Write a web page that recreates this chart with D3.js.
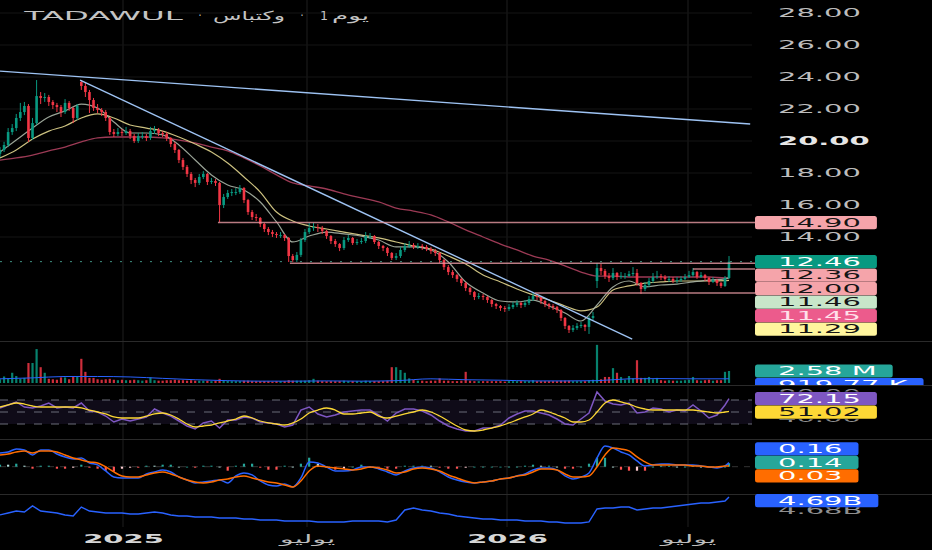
<!DOCTYPE html>
<html><head><meta charset="utf-8">
<script src="https://cdn.jsdelivr.net/npm/d3@7"></script>
<style>html,body{margin:0;background:#000;overflow:hidden}svg{display:block}</style>
</head><body><svg id="c" width="932" height="550"></svg>
<script>
// ---------------- DATA ----------------
const titleParts = ["TADAWUL", "·", "وكتباس", "·", "1", "يوم"];
const timeTickDates = ["2025-01-01", "2025-07-01", "2026-01-01", "2026-07-01"];
const timeTickLabels = ["2025", "يوليو", "2026", "يوليو"];
const priceTicks = [28, 26, 24, 22, 20, 18, 16, 14];
const rsiTicks = [80, 40];
const obvTicks = [4680];
const rsiLevels = [70, 50, 30];

const opens = [19.20,19.44,19.75,20.56,20.81,21.44,21.81,22.19,20.19,21.12,
22.81,22.69,22.75,22.44,22.25,22.12,21.81,22.38,22.06,21.44,
23.69,23.44,23.06,22.56,22.06,21.94,21.81,21.44,20.56,20.44,
20.56,20.50,20.62,20.31,20.00,20.31,20.31,20.19,20.62,20.69,
20.50,20.44,20.19,19.81,19.44,18.81,18.38,17.94,17.56,17.38,
17.75,17.94,17.44,17.50,17.38,16.00,16.50,16.75,16.81,16.81,
17.06,16.31,15.56,15.25,15.19,14.81,14.50,14.31,14.19,14.12,
14.12,13.94,12.81,12.56,12.88,13.81,14.31,14.56,14.62,14.56,
14.38,14.06,13.75,13.56,13.31,13.81,13.94,13.62,13.69,13.75,
14.06,14.06,13.69,13.44,13.31,13.00,12.69,12.81,13.19,13.44,
13.50,13.38,13.44,13.38,13.25,13.12,13.00,12.56,12.12,11.81,
11.62,11.38,11.12,10.81,10.56,10.25,10.31,10.25,10.06,9.81,
9.69,9.56,9.50,9.62,9.75,9.88,9.75,9.88,10.12,10.31,
10.25,10.00,9.81,9.69,9.62,9.44,8.94,8.44,8.19,8.31,
8.44,8.50,8.38,8.94,11.25,12.06,11.88,11.56,11.44,11.75,
11.50,11.56,11.56,11.69,11.75,11.12,10.75,11.00,11.25,11.50,
11.56,11.50,11.38,11.38,11.25,11.31,11.38,11.50,11.62,11.81,
11.50,11.62,11.44,11.19,11.31,11.12,10.94,11.44];
const highs = [19.62,19.95,20.81,21.06,21.69,22.38,22.44,22.31,21.44,23.81,
23.06,23.00,22.88,22.56,22.38,22.25,22.62,22.50,22.12,22.31,
23.81,23.62,23.19,22.69,22.31,22.06,21.94,21.50,20.75,20.81,
20.75,20.88,20.75,20.44,20.50,20.56,20.44,20.88,20.94,20.81,
20.62,20.56,20.25,19.94,19.50,18.94,18.50,18.06,17.69,17.94,
18.12,18.00,17.69,17.62,17.44,16.69,16.94,17.00,17.06,17.25,
17.12,16.38,15.69,15.44,15.25,14.88,14.62,14.44,14.31,14.31,
14.19,14.00,12.94,13.06,13.94,14.50,14.88,14.88,14.81,14.69,
14.44,14.12,13.88,13.62,14.00,14.12,14.00,13.88,13.94,14.31,
14.25,14.12,13.75,13.50,13.38,13.06,13.00,13.38,13.62,13.75,
13.62,13.62,13.56,13.50,13.38,13.25,13.06,12.62,12.25,11.94,
11.69,11.44,11.19,10.88,10.62,10.50,10.44,10.31,10.12,9.88,
9.75,9.69,9.81,9.94,10.06,9.94,10.06,10.31,10.50,10.44,
10.31,10.06,9.88,9.81,9.69,9.50,9.00,8.50,8.50,8.62,
8.69,8.56,9.06,9.31,12.38,12.31,12.00,11.75,12.06,11.81,
11.81,11.75,11.88,12.12,12.00,11.19,11.19,11.44,11.75,11.88,
11.69,11.62,11.56,11.50,11.50,11.56,11.69,11.88,12.06,11.88,
11.81,11.69,11.50,11.50,11.38,11.19,11.56,12.81];
const lows = [19.00,19.31,19.62,20.38,20.62,21.25,21.62,19.94,20.06,21.00,
22.31,22.44,22.19,22.00,21.81,21.50,21.69,21.88,21.12,21.31,
23.19,22.75,21.75,21.88,21.75,21.56,21.25,20.38,20.25,20.31,
20.31,20.38,20.12,19.88,19.88,20.12,20.00,20.06,20.44,20.31,
20.25,20.00,19.62,19.25,18.62,18.19,17.75,17.31,17.12,17.25,
17.62,17.25,17.31,17.19,14.94,15.81,16.38,16.56,16.62,16.69,
16.12,15.38,15.06,15.00,14.62,14.31,14.12,14.00,13.94,13.94,
13.75,12.44,12.44,12.44,12.75,13.69,14.19,14.38,14.31,14.19,
13.88,13.56,13.38,13.12,13.19,13.69,13.50,13.50,13.56,13.62,
13.88,13.56,13.25,13.12,12.81,12.56,12.56,12.69,13.06,13.31,
13.25,13.25,13.19,13.12,12.94,12.81,12.38,11.94,11.62,11.44,
11.19,10.94,10.62,10.38,10.06,10.12,10.06,9.88,9.62,9.50,
9.38,9.31,9.38,9.50,9.62,9.56,9.62,9.75,10.00,10.06,
9.81,9.62,9.50,9.44,9.25,8.75,8.25,8.00,8.06,8.19,
8.31,8.12,7.94,8.81,10.81,11.62,11.38,11.19,11.31,11.31,
11.38,11.38,11.50,11.56,10.94,10.44,10.62,10.88,11.12,11.38,
11.31,11.25,11.19,11.12,11.12,11.19,11.31,11.44,11.50,11.38,
11.44,11.25,11.00,11.12,10.94,10.81,10.88,11.38];
const closes = [19.44,19.75,20.56,20.81,21.44,21.81,22.19,20.19,21.12,22.81,
22.69,22.75,22.44,22.25,22.12,21.81,22.38,22.06,21.44,22.19,
23.44,23.06,22.56,22.06,21.94,21.81,21.44,20.56,20.44,20.56,
20.50,20.62,20.31,20.00,20.31,20.31,20.19,20.62,20.69,20.50,
20.44,20.19,19.81,19.44,18.81,18.38,17.94,17.56,17.38,17.75,
17.94,17.44,17.50,17.38,16.00,16.50,16.75,16.81,16.81,17.06,
16.31,15.56,15.25,15.19,14.81,14.50,14.31,14.19,14.12,14.12,
13.94,12.81,12.56,12.88,13.81,14.31,14.56,14.62,14.56,14.38,
14.06,13.75,13.56,13.31,13.81,13.94,13.62,13.69,13.75,14.06,
14.06,13.69,13.44,13.31,13.00,12.69,12.81,13.19,13.44,13.50,
13.38,13.44,13.38,13.25,13.12,13.00,12.56,12.12,11.81,11.62,
11.38,11.12,10.81,10.56,10.25,10.31,10.25,10.06,9.81,9.69,
9.56,9.50,9.62,9.75,9.88,9.75,9.88,10.12,10.31,10.25,
10.00,9.81,9.69,9.62,9.44,8.94,8.44,8.19,8.31,8.44,
8.50,8.38,8.94,9.06,12.06,11.88,11.56,11.44,11.75,11.50,
11.56,11.56,11.69,11.75,11.12,10.75,11.00,11.25,11.50,11.56,
11.50,11.38,11.38,11.25,11.31,11.38,11.50,11.62,11.81,11.50,
11.62,11.44,11.19,11.31,11.12,10.94,11.44,12.46];
// volume, millions
const volumes = [0.8,1.4,0.9,2.2,1.5,0.9,1.1,4.3,4.3,7.3,
3.4,2.2,0.9,0.8,0.7,1.2,1.2,0.8,1.3,1.3,
5.2,2.4,1.1,1.1,0.8,0.7,0.8,0.9,0.7,0.6,
0.7,0.6,0.6,0.7,0.6,0.5,0.6,1.2,0.6,0.5,
0.5,0.6,0.6,0.7,0.6,0.6,0.5,0.6,0.5,0.5,
0.5,0.5,0.4,0.5,0.9,0.5,0.5,0.4,0.4,0.4,
0.5,0.5,0.4,0.4,0.4,0.4,0.4,0.3,0.4,0.4,
0.4,0.6,0.5,0.5,0.5,0.5,0.6,0.9,0.5,0.4,
0.4,0.4,0.4,0.4,0.5,0.4,0.4,0.4,0.4,0.5,
0.4,0.4,0.4,0.4,0.5,3.4,3.4,2.8,2.2,1.0,
0.7,0.5,0.5,0.4,0.5,0.5,1.0,0.5,0.5,0.4,
0.4,0.5,2.4,0.5,0.4,0.4,0.4,0.4,0.4,0.4,
0.4,0.3,0.4,0.4,0.4,0.4,0.4,0.4,0.6,0.4,
0.4,0.4,0.4,0.4,0.4,0.5,0.5,0.5,0.4,0.4,
0.4,0.4,0.6,0.7,8.2,0.8,1.3,1.3,3.2,2.2,
1.3,0.7,1.5,1.0,4.9,1.1,1.1,1.3,0.8,1.1,
0.6,0.5,0.6,0.5,0.5,0.5,0.6,0.7,1.3,0.6,
0.5,0.6,0.7,0.5,0.6,0.6,2.4,2.58];
// volume MA, sampled every 8 bars (+ last)
const volMA = [0.9,1.1,1.4,1.4,1.3,1.0,0.7,0.5,0.4,0.4,0.45,0.4,0.5,0.9,0.7,0.6,0.45,0.45,0.5,0.9,0.95,0.9,0.9,0.91977];
// price moving averages, sampled every 4 bars (+ last)
const fastMA = [19.31,20.06,20.81,21.50,21.88,22.31,22.06,21.19,20.50,20.50,
20.38,19.75,18.81,17.88,17.25,16.94,16.19,14.94,13.69,14.06,
14.31,14.19,14.06,13.81,13.38,13.38,13.19,12.44,11.19,10.50,
10.00,9.94,10.06,9.69,9.25,8.75,9.75,10.88,11.25,10.88,
11.00,11.06,11.19,11.31,11.38,11.46];
const midMA = [18.94,19.44,20.12,20.62,20.94,21.44,21.69,21.44,21.00,20.81,
20.62,20.25,19.81,19.31,18.62,17.75,16.81,15.56,15.00,14.69,
14.50,14.31,14.12,13.94,13.69,13.44,13.25,12.81,12.31,11.62,
11.19,10.75,10.38,10.06,9.69,9.38,9.62,10.69,10.94,11.12,
11.19,11.25,11.25,11.25,11.27,11.29];
const slowMA = [18.81,18.94,19.12,19.38,19.62,19.94,20.19,20.25,20.25,20.25,
20.19,20.06,19.88,19.62,19.38,18.94,18.44,17.88,17.38,17.19,
17.00,16.69,16.44,16.19,15.81,15.62,15.38,14.94,14.44,14.00,
13.56,13.19,12.81,12.56,12.19,11.81,11.56,11.56,11.50,11.50,
11.50,11.50,11.50,11.50,11.44,11.45];
// indicators sampled every 2 bars (+ last)
const rsi = [56.7,61.7,66.7,58.3,56.7,60.0,65.0,56.7,58.3,56.7,
65.0,51.7,50.0,43.3,33.3,38.3,35.0,38.3,41.7,55.0,
48.3,43.3,35.0,26.7,21.7,31.7,35.0,23.3,36.7,36.7,
41.7,40.0,33.3,31.7,30.0,25.0,28.3,53.3,58.3,46.7,
41.7,45.0,50.0,51.7,53.3,53.3,45.0,35.0,48.3,55.0,
55.0,51.7,45.0,35.0,26.7,21.7,18.3,18.3,23.3,23.3,
28.3,40.0,46.7,51.7,51.7,48.3,45.0,38.3,30.0,28.3,
38.3,48.3,83.3,68.3,63.3,61.7,65.0,48.3,50.0,56.7,
55.0,50.0,53.3,51.7,61.7,51.7,40.0,45.0,61.7,72.15];
const rsiMA = [58.3,61.7,65.0,63.3,60.0,58.3,58.3,58.3,58.3,58.3,
56.7,53.3,50.0,46.7,41.7,40.0,40.0,40.0,43.3,46.7,
48.3,45.0,38.3,30.0,25.0,26.7,28.3,31.7,35.0,38.3,
43.3,40.0,35.0,31.7,30.0,28.3,31.7,38.3,48.3,53.3,
56.7,53.3,46.7,46.7,48.3,50.0,43.3,40.0,43.3,46.7,
50.0,53.3,50.0,43.3,35.0,26.7,20.0,18.3,20.0,23.3,
26.7,31.7,36.7,41.7,46.7,53.3,50.0,45.0,40.0,33.3,
33.3,36.7,50.0,65.0,70.0,66.7,63.3,58.3,55.0,53.3,
53.3,53.3,53.3,53.3,53.3,51.7,50.0,48.3,50.0,51.02];
const macd = [0.55,0.59,0.71,0.67,0.47,0.67,0.67,0.51,0.39,0.31,
0.35,0.15,0.07,-0.17,-0.41,-0.45,-0.45,-0.45,-0.29,-0.21,
-0.13,-0.21,-0.41,-0.53,-0.65,-0.61,-0.57,-0.53,-0.65,-0.37,
-0.25,-0.33,-0.57,-0.73,-0.77,-0.69,-0.81,-0.45,0.19,0.15,
-0.01,-0.17,-0.17,-0.13,-0.01,-0.01,-0.09,-0.21,-0.33,-0.17,
-0.05,-0.01,-0.05,-0.21,-0.41,-0.53,-0.61,-0.65,-0.61,-0.57,
-0.49,-0.45,-0.37,-0.29,-0.13,-0.05,-0.05,-0.13,-0.37,-0.49,
-0.41,-0.25,0.35,0.83,0.75,0.59,0.47,0.23,0.03,0.07,
0.11,0.11,0.07,0.07,0.07,0.03,-0.01,-0.05,0.03,0.164];
const signal = [0.47,0.51,0.59,0.63,0.55,0.63,0.63,0.59,0.47,0.35,
0.27,0.19,0.15,-0.01,-0.21,-0.37,-0.41,-0.41,-0.33,-0.25,
-0.21,-0.29,-0.41,-0.53,-0.61,-0.65,-0.61,-0.53,-0.49,-0.41,
-0.37,-0.45,-0.53,-0.61,-0.65,-0.73,-0.81,-0.57,-0.17,0.03,
-0.01,-0.05,-0.09,-0.13,-0.09,-0.01,-0.05,-0.13,-0.25,-0.21,
-0.09,-0.05,-0.09,-0.17,-0.33,-0.45,-0.57,-0.65,-0.61,-0.57,
-0.49,-0.45,-0.37,-0.33,-0.21,-0.09,-0.09,-0.13,-0.29,-0.41,
-0.41,-0.37,-0.01,0.47,0.75,0.71,0.63,0.39,0.19,0.07,
0.07,0.07,0.07,0.07,0.03,0.03,-0.01,-0.01,0.03,0.025];
// on-balance volume, millions
const obv = [4676.2,4677.7,4679.2,4678.5,4683.1,4679.2,4678.5,4677.7,4676.2,4675.4,
4682.3,4679.2,4678.5,4677.7,4677.7,4677.7,4676.9,4676.9,4677.7,4678.5,
4677.7,4676.2,4675.4,4675.4,4674.6,4674.6,4674.6,4673.8,4673.8,4673.8,
4673.1,4673.1,4672.3,4672.3,4672.3,4671.5,4671.5,4671.5,4671.5,4670.8,
4670.8,4670.8,4670.8,4671.5,4671.5,4671.5,4671.5,4670.8,4672.3,4680.0,
4681.5,4680.0,4679.2,4677.7,4676.9,4675.4,4674.6,4673.8,4673.1,4673.1,
4672.3,4672.3,4672.3,4671.5,4671.5,4671.5,4670.8,4670.8,4670.0,4670.0,
4670.0,4670.8,4680.8,4681.5,4681.5,4682.3,4682.3,4680.0,4680.8,4681.5,
4681.5,4682.3,4683.1,4683.8,4684.6,4685.4,4685.4,4686.2,4686.9,4690.0];
// drawn lines: [bar index, price]
const trendLine1 = [[0, 24.37], [182.3, 21.06]];
const trendLine2 = [[19.7, 23.81], [152.8, 7.62]];
const levelPrices = [14.90, 12.36, 12.00, 10.50];
const levelStartBar = [53.6, 71.3, 168, 128.5];

// ---------------- SETUP ----------------
const SX = 2.52;
const FONT = "'DejaVu Sans', sans-serif";
const svg = d3.select('#c').style('font-family', FONT);
svg.append('rect').attr('width', 932).attr('height', 550).attr('fill', '#000');

const DAY = 864e5;
const start = new Date(2024, 8, 2);
const barDate = i => new Date(start.getTime() + i * 4 * DAY);
const N = closes.length;
const maIdx = d3.range(0, N - 1, 4).concat([N - 1]);
const indIdx = d3.range(0, N - 1, 2).concat([N - 1]);
const volMAIdx = d3.range(0, N - 1, 8).concat([N - 1]);
const tDates = timeTickDates.map(s => { const [a, b, c] = s.split('-').map(Number); return new Date(a, b - 1, c); });

const x = d3.scaleTime().domain([start, ...tDates]).range([0, 123, 307, 507, 688]);
const y = d3.scaleLinear().domain([14, 28]).range([237, 13]);
const volY = d3.scaleLinear().domain([0, 1]).range([383, 378.35]);
const rsiY = d3.scaleLinear().domain([30, 70]).range([424, 400]);
const macdY = d3.scaleLinear().domain([0, 1]).range([466.7, 441.7]);
const obvY = d3.scaleLinear().domain([4680, 4690]).range([510, 497]);

const GREEN = '#089981', RED = '#f23645';
const bars = closes.map((c, i) => ({ i, d: barDate(i), o: opens[i], h: highs[i], l: lows[i], c, v: volumes[i] }));
const colOf = d => d.c >= d.o ? GREEN : RED;

const defs = svg.append('defs');
function clip(id, x0, y0, w, h) { defs.append('clipPath').attr('id', id).append('rect').attr('x', x0).attr('y', y0).attr('width', w).attr('height', h); return `url(#${id})`; }
const mainClip = clip('cm', 0, 0, 752, 341);
const volClip = clip('cv', 0, 342, 932, 43);
const rsiClip = clip('cr', 0, 386, 932, 53);
const macdClip = clip('cd', 0, 440, 932, 54);
const obvClip = clip('co', 0, 495, 932, 35);

// grid
const grid = svg.append('g');
grid.selectAll('line.v').data(tDates).join('line')
  .attr('x1', d => x(d)).attr('x2', d => x(d)).attr('y1', 0).attr('y2', 527)
  .attr('stroke', '#1e1e1e').attr('stroke-width', 1);
grid.selectAll('line.h').data(priceTicks).join('line')
  .attr('x1', 0).attr('x2', 752).attr('y1', d => y(d)).attr('y2', d => y(d))
  .attr('stroke', '#151515');
svg.append('g').selectAll('line').data([341.5, 385.5, 439.5, 494.5]).join('line')
  .attr('x1', 0).attr('x2', 932).attr('y1', d => d).attr('y2', d => d).attr('stroke', '#2a2a2a');

// ---------------- MAIN PANEL ----------------
const main = svg.append('g').attr('clip-path', mainClip);
const lv = svg.append('g');
levelPrices.forEach((p, k) => {
  lv.append('line').attr('x1', x(barDate(levelStartBar[k]))).attr('x2', 755)
    .attr('y1', y(p)).attr('y2', y(p)).attr('stroke', '#e79aa2').attr('stroke-opacity', 0.8).attr('stroke-width', 1.5);
});
const last = bars[N - 1];
svg.append('line').attr('x1', 0).attr('x2', 755).attr('y1', y(last.c)).attr('y2', y(last.c))
  .attr('stroke', '#3f8f80').attr('stroke-width', 1).attr('stroke-dasharray', '2,8');

const maLine = arr => d3.line().curve(d3.curveMonotoneX).x((d, k) => x(barDate(maIdx[k]))).y(d => y(d))(arr);
main.append('path').attr('d', maLine(slowMA)).attr('fill', 'none').attr('stroke', '#9c3a55').attr('stroke-width', 1.3);
main.append('path').attr('d', maLine(midMA)).attr('fill', 'none').attr('stroke', '#e2d68e').attr('stroke-width', 1.2).attr('stroke-opacity', 0.9);
main.append('path').attr('d', maLine(fastMA)).attr('fill', 'none').attr('stroke', '#aab5a6').attr('stroke-width', 1.2).attr('stroke-opacity', 0.9);

main.selectAll('line.wick').data(bars).join('line')
  .attr('x1', d => x(d.d)).attr('x2', d => x(d.d)).attr('y1', d => y(d.h)).attr('y2', d => y(d.l))
  .attr('stroke', colOf).attr('stroke-width', 1);
main.selectAll('rect.body').data(bars).join('rect')
  .attr('x', d => x(d.d) - 1.3).attr('width', 2.6)
  .attr('y', d => y(Math.max(d.o, d.c)))
  .attr('height', d => Math.max(1, Math.abs(y(d.o) - y(d.c))))
  .attr('fill', colOf);

const tl = d3.line().x(d => x(barDate(d[0]))).y(d => y(d[1]));
[trendLine1, trendLine2].forEach(t => main.append('path').attr('d', tl(t)).attr('stroke', '#9ec3f3').attr('stroke-width', 1.4).attr('fill', 'none'));

// ---------------- VOLUME ----------------
const vol = svg.append('g').attr('clip-path', volClip);
vol.selectAll('rect').data(bars).join('rect')
  .attr('x', d => x(d.d) - 1.1).attr('width', 2.2)
  .attr('y', d => volY(d.v)).attr('height', d => volY(0) - volY(d.v))
  .attr('fill', colOf).attr('fill-opacity', 0.85);
vol.append('path').attr('d', d3.line().x((d, k) => x(barDate(volMAIdx[k]))).y(d => volY(d)).curve(d3.curveMonotoneX)(volMA))
  .attr('fill', 'none').attr('stroke', '#2962ff').attr('stroke-width', 1);

// ---------------- RSI ----------------
const rg = svg.append('g').attr('clip-path', rsiClip);
rg.append('rect').attr('x', 0).attr('width', 752).attr('y', rsiY(70)).attr('height', rsiY(30) - rsiY(70)).attr('fill', '#7e57c2').attr('fill-opacity', 0.12);
rg.selectAll('line.lv').data(rsiLevels).join('line')
  .attr('x1', 0).attr('x2', 752).attr('y1', d => rsiY(d)).attr('y2', d => rsiY(d))
  .attr('stroke', '#6a6d78').attr('stroke-dasharray', '8,9');
const indX = (d, k) => x(barDate(indIdx[k]));
rg.append('path').attr('d', d3.line().x(indX).y(d => rsiY(d))(rsi)).attr('fill', 'none').attr('stroke', '#7e57c2').attr('stroke-width', 1.5);
rg.append('path').attr('d', d3.line().x(indX).y(d => rsiY(d)).curve(d3.curveMonotoneX)(rsiMA)).attr('fill', 'none').attr('stroke', '#fdd835').attr('stroke-width', 1.3);

// ---------------- MACD ----------------
const mg = svg.append('g').attr('clip-path', macdClip);
mg.append('line').attr('x1', 0).attr('x2', 752).attr('y1', macdY(0)).attr('y2', macdY(0)).attr('stroke', '#333').attr('stroke-dasharray', '6,6');
const hist = macd.map((m, k) => m - signal[k]);
mg.selectAll('rect').data(hist).join('rect')
  .attr('x', (d, k) => indX(d, k) - 1.1).attr('width', 2.2)
  .attr('y', d => Math.min(macdY(d), macdY(0))).attr('height', d => Math.max(0.8, Math.abs(macdY(d) - macdY(0))))
  .attr('fill', (d, k) => {
    const prev = k > 0 ? hist[k - 1] : d;
    if (d >= 0) return d >= prev ? '#26a69a' : '#b2dfdb';
    return d <= prev ? '#ff5252' : '#ffcdd2';
  });
mg.append('path').attr('d', d3.line().x(indX).y(d => macdY(d)).curve(d3.curveMonotoneX)(macd)).attr('fill', 'none').attr('stroke', '#2962ff').attr('stroke-width', 1.5);
mg.append('path').attr('d', d3.line().x(indX).y(d => macdY(d)).curve(d3.curveMonotoneX)(signal)).attr('fill', 'none').attr('stroke', '#ff6d00').attr('stroke-width', 1.5);

// ---------------- OBV ----------------
const og = svg.append('g').attr('clip-path', obvClip);
og.append('path').attr('d', d3.line().x(indX).y(d => obvY(d))(obv)).attr('fill', 'none').attr('stroke', '#2962ff').attr('stroke-width', 1.4);

// ---------------- AXES ----------------
function stretchAxisText(sel) { sel.selectAll('text').attr('transform', `scale(${SX},1)`); }
const pAx = svg.append('g').attr('transform', 'translate(778,0)')
  .call(d3.axisRight(y).tickValues(priceTicks).tickSize(0).tickPadding(0).tickFormat(d3.format('.2f')));
pAx.select('.domain').remove();
pAx.selectAll('text').attr('font-size', 11.5).attr('font-family', FONT)
  .attr('fill', d => d % 10 === 0 ? '#e6e6e6' : '#bdbdbd').attr('font-weight', d => d % 10 === 0 ? 'bold' : 'normal');
stretchAxisText(pAx);

// partially covered indicator scale labels (only the uncovered slivers show)
const rsiTickClip = clip('crt', 760, 386, 172, 53);
defs.select('#crt').selectAll('rect').remove();
defs.select('#crt').append('rect').attr('x', 760).attr('y', 386).attr('width', 172).attr('height', 5.6);
defs.select('#crt').append('rect').attr('x', 760).attr('y', 419.2).attr('width', 172).attr('height', 19);
const rAx = svg.append('g').attr('clip-path', rsiTickClip).append('g').attr('transform', 'translate(778,0)')
  .call(d3.axisRight(rsiY).tickValues(rsiTicks).tickSize(0).tickPadding(0).tickFormat(d3.format('.2f')));
rAx.select('.domain').remove();
rAx.selectAll('text').attr('font-size', 11.5).attr('font-family', FONT).attr('fill', '#8f8f8f');
stretchAxisText(rAx);

const obvTickClip = clip('cot', 760, 507.3, 172, 20);
const oAx = svg.append('g').attr('clip-path', obvTickClip).append('g').attr('transform', 'translate(778,0)')
  .call(d3.axisRight(obvY).tickValues(obvTicks).tickSize(0).tickPadding(0).tickFormat(d => (d / 1000).toFixed(2) + 'B'));
oAx.select('.domain').remove();
oAx.selectAll('text').attr('font-size', 11.5).attr('font-family', FONT).attr('fill', '#8f8f8f');
stretchAxisText(oAx);

const tAx = svg.append('g').attr('transform', 'translate(0,539)')
  .call(d3.axisBottom(x).tickValues(tDates).tickSize(0).tickPadding(0).tickFormat((d, i) => timeTickLabels[i]));
tAx.select('.domain').remove();
tAx.selectAll('text').attr('dy', '0.36em').attr('font-size', 11.5).attr('font-family', FONT)
  .attr('font-weight', (d, i) => /^\d+$/.test(timeTickLabels[i]) ? 'bold' : 'normal')
  .attr('fill', (d, i) => /^\d+$/.test(timeTickLabels[i]) ? '#d6d6d6' : '#bdbdbd');
stretchAxisText(tAx);

// ---------------- VALUE LABELS ----------------
const labelLayer = svg.append('g');
function drawLabel(parent, yc, text, bg, fg) {
  const g = parent.append('g').attr('transform', `translate(0,${yc})`);
  const r = g.append('rect').attr('x', 755).attr('y', -6.6).attr('height', 13.2).attr('rx', 2.5).attr('fill', bg);
  const t = g.append('text').attr('transform', `translate(778,0) scale(${SX},1)`).attr('dy', '0.36em')
    .attr('font-size', 11.5).attr('fill', fg).text(text);
  const w = t.node().getComputedTextLength() * SX;
  r.attr('width', 23 + w + 16);
}
function stackDown(items, gap) {
  items.sort((a, b) => a.y - b.y);
  let prev = -Infinity;
  items.forEach(it => { it.ly = Math.max(it.y, prev + gap); prev = it.ly; });
  return items;
}
function stackCenter(items, gap) {
  items.sort((a, b) => a.y - b.y);
  const m = d3.mean(items, d => d.y), n = items.length;
  items.forEach((it, k) => it.ly = m + (k - (n - 1) / 2) * gap - 1.5);
  return items;
}
const GAP = 13.5;
const lastK = indIdx.length - 1;
const lvlCols = { bg: '#f5a4aa', fg: '#151515' };
const priceItems = [
  { v: last.c, bg: GREEN, fg: '#ffffff' },
  { v: levelPrices[1], bg: lvlCols.bg, fg: lvlCols.fg },
  { v: levelPrices[2], bg: lvlCols.bg, fg: lvlCols.fg },
  { v: fastMA[fastMA.length - 1], bg: '#c8e6c9', fg: '#151515' },
  { v: slowMA[slowMA.length - 1], bg: '#ec5b8c', fg: '#ffe0ea' },
  { v: midMA[midMA.length - 1], bg: '#fff59d', fg: '#151515' }
].map(d => ({ ...d, y: y(d.v), text: d.v.toFixed(2) }));
stackDown(priceItems, GAP);
drawLabel(labelLayer, y(levelPrices[0]), levelPrices[0].toFixed(2), lvlCols.bg, lvlCols.fg);
priceItems.slice().reverse().forEach(d => drawLabel(labelLayer, d.ly, d.text, d.bg, d.fg));

const volLayer = svg.append('g').attr('clip-path', volClip);
const volItems = stackDown([
  { y: volY(last.v), text: last.v.toFixed(2) + ' M', bg: '#26a69a', fg: '#fff' },
  { y: volY(volMA[volMA.length - 1]), text: (volMA[volMA.length - 1] * 1000).toFixed(2) + ' K', bg: '#2962ff', fg: '#fff' }
], GAP);
volItems.slice().reverse().forEach(d => drawLabel(volLayer, d.ly, d.text, d.bg, d.fg));

const rsiItems = stackDown([
  { y: rsiY(rsi[lastK]), text: rsi[lastK].toFixed(2), bg: '#7e57c2', fg: '#fff' },
  { y: rsiY(rsiMA[lastK]), text: rsiMA[lastK].toFixed(2), bg: '#fdd835', fg: '#151515' }
], GAP);
rsiItems.forEach(d => drawLabel(labelLayer, d.ly, d.text, d.bg, d.fg));

const macdItems = stackCenter([
  { y: macdY(macd[lastK]), text: macd[lastK].toFixed(2), bg: '#2962ff', fg: '#fff' },
  { y: macdY(hist[lastK]), text: hist[lastK].toFixed(2), bg: '#26a69a', fg: '#fff' },
  { y: macdY(signal[lastK]), text: signal[lastK].toFixed(2), bg: '#ff6d00', fg: '#fff' }
], GAP);
macdItems.forEach(d => drawLabel(labelLayer, d.ly, d.text, d.bg, d.fg));

const obvLast = obv[lastK];
drawLabel(labelLayer, Math.max(obvY(obvLast), 494 + 6.6), (obvLast / 1000).toFixed(2) + 'B', '#2962ff', '#fff');

// ---------------- TITLE ----------------
// [left, right] extents of each title piece
const titleBox = [[21.7, 183], [198.5, 201.5], [213, 285], [300.5, 303.5], [320, 328], [332, 370]];
titleParts.forEach((s, k) => {
  const g = svg.append('g');
  const t = g.append('text').attr('x', 0).attr('y', 0).attr('dy', '0.36em')
    .attr('font-size', 12.5).attr('fill', '#c4c4c4').text(s);
  const bb = t.node().getBBox();
  const [l, r] = titleBox[k];
  const sx = (r - l) / Math.max(1, bb.width);
  g.attr('transform', `translate(${l - bb.x * sx},15) scale(${sx},1)`);
});
</script></body></html>
